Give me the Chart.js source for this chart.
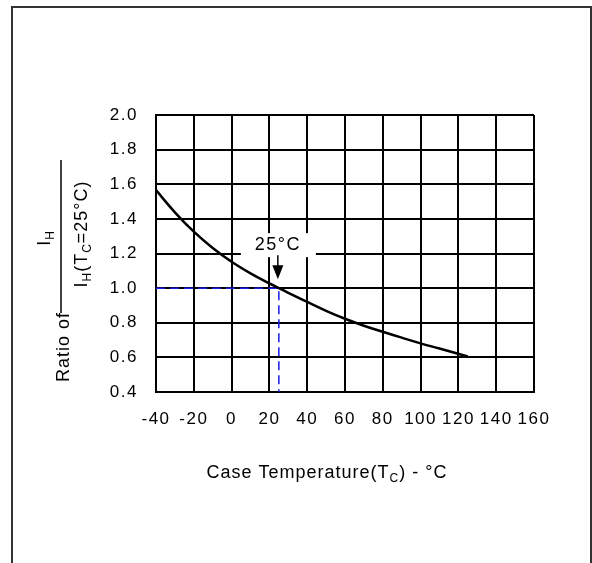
<!DOCTYPE html>
<html>
<head>
<meta charset="utf-8">
<script src="https://cdn.jsdelivr.net/npm/chart.js@4.4.1/dist/chart.umd.min.js"></script>
<style>
  html, body { margin: 0; padding: 0; background: #fff; }
  #wrap { position: relative; width: 592px; height: 563px; }
</style>
</head>
<body>
<div id="wrap"><canvas id="ratioChart"></canvas></div>
<script>
// case temperature (°C) and I_H ratio
const tempC = [-40, -30, -20, -10, 0, 10, 20, 25, 30, 40, 50, 60, 70, 80, 90, 100, 110, 125];
const ratio = [1.566, 1.438, 1.326, 1.232, 1.152, 1.085, 1.027, 1.0, 0.973, 0.920, 0.869, 0.823, 0.783, 0.748, 0.714, 0.681, 0.651, 0.605];

// dashed guide through the 25°C point
const refX = [-40, 25, 25];
const refY = [1.0, 1.0, 0.4];

const xTicks = [-40, -20, 0, 20, 40, 60, 80, 100, 120, 140, 160];
const yTicks = [0.4, 0.6, 0.8, 1.0, 1.2, 1.4, 1.6, 1.8, 2.0];

const FONT = '"Liberation Sans", Arial, sans-serif';

// draws text made of normal + subscript runs, centred on (0,0)
function drawRuns(ctx, runs, size, subSize, spacing) {
    ctx.letterSpacing = spacing + 'px';
    let total = 0;
    runs.forEach(r => {
        ctx.font = (r.sub ? subSize : size) + 'px ' + FONT;
        r.w = ctx.measureText(r.t).width;
        total += r.w;
    });
    let x = -total / 2;
    ctx.textAlign = 'left';
    ctx.textBaseline = 'alphabetic';
    runs.forEach(r => {
        ctx.font = (r.sub ? subSize : size) + 'px ' + FONT;
        ctx.fillText(r.t, x, r.sub ? 4 : 0);
        x += r.w;
    });
}

const framePlugin = {
    id: 'frame',
    beforeDraw(chart) {
        chart.ctx.letterSpacing = '1.5px';
    },
    afterDraw(chart) {
        const c = chart.ctx;
        c.save();
        c.strokeStyle = '#333';
        c.lineWidth = 2;
        c.strokeRect(12, 7, 579, 700);

        c.fillStyle = '#000';
        // x title
        c.save();
        c.translate(327, 478);
        drawRuns(c, [{t: 'Case Temperature(T'}, {t: 'C', sub: true}, {t: ') - °C'}], 18, 12, 1);
        c.restore();

        // y title: "Ratio of" + fraction
        c.save();
        c.translate(69, 347);
        c.rotate(-Math.PI / 2);
        drawRuns(c, [{t: 'Ratio of'}], 18, 12, 1);
        c.restore();

        c.beginPath();
        c.lineWidth = 1.5;
        c.strokeStyle = '#000';
        c.moveTo(61, 160);
        c.lineTo(61, 313);
        c.stroke();

        c.save();
        c.translate(50, 238);
        c.rotate(-Math.PI / 2);
        drawRuns(c, [{t: 'I'}, {t: 'H', sub: true}], 18, 12, 1);
        c.restore();

        c.save();
        c.translate(87, 234);
        c.rotate(-Math.PI / 2);
        drawRuns(c, [{t: 'I'}, {t: 'H', sub: true}, {t: '(T'}, {t: 'C', sub: true}, {t: '=25°C)'}], 18, 12, 1);
        c.restore();
        c.restore();
    }
};

// "25°C" callout with arrow at the reference point
const calloutPlugin = {
    id: 'callout',
    beforeDatasetsDraw(chart) {
        const c = chart.ctx;
        const px = chart.scales.x.getPixelForValue(25);
        const py = chart.scales.y.getPixelForValue(1.0);
        c.save();
        c.fillStyle = '#fff';
        c.fillRect(px - 38, py - 55, 75, 24);
        c.restore();
    },
    afterDatasetsDraw(chart) {
        const c = chart.ctx;
        const px = chart.scales.x.getPixelForValue(25) - 1;
        const py = chart.scales.y.getPixelForValue(1.0);
        c.save();
        c.fillStyle = '#000';
        c.translate(px, py - 38);
        drawRuns(c, [{t: '25°C'}], 18, 12, 1.5);
        c.restore();

        c.save();
        c.strokeStyle = '#000';
        c.fillStyle = '#000';
        c.lineWidth = 1.5;
        c.beginPath();
        c.moveTo(px, py - 33);
        c.lineTo(px, py - 22);
        c.stroke();
        c.beginPath();
        c.moveTo(px - 5.5, py - 23);
        c.lineTo(px + 5.5, py - 23);
        c.lineTo(px, py - 9);
        c.closePath();
        c.fill();
        c.restore();
    }
};

const ctx = document.getElementById('ratioChart').getContext('2d');

const chart = new Chart(ctx, {
    type: 'line',
    data: {
        datasets: [{
            label: 'Ratio',
            data: tempC.map((t, i) => ({x: t, y: ratio[i]})),
            borderColor: '#000',
            borderWidth: 2.5,
            pointRadius: 0,
            tension: 0.4,
            fill: false
        }, {
            label: '25°C',
            data: refX.map((t, i) => ({x: t, y: refY[i]})),
            borderColor: '#1a1ae6',
            borderWidth: 1.5,
            borderDash: [9, 5],
            pointRadius: 0,
            tension: 0,
            fill: false
        }]
    },
    options: {
        responsive: true,
        maintainAspectRatio: false,
        animation: false,
        layout: {
            padding: {left: 0, top: 115, right: 58, bottom: 0}
        },
        plugins: {
            legend: {display: false},
            tooltip: {enabled: false}
        },
        scales: {
            x: {
                type: 'linear',
                min: -40,
                max: 160,
                afterBuildTicks: s => { s.ticks = xTicks.map(v => ({value: v})); },
                afterFit: s => { s.height = 563 - 392; },
                grid: {color: '#000', lineWidth: 2, drawTicks: false},
                border: {color: '#000', width: 2},
                ticks: {
                    autoSkip: false,
                    maxRotation: 0,
                    padding: 17,
                    color: '#000',
                    font: {family: FONT, size: 17}
                }
            },
            y: {
                type: 'linear',
                min: 0.4,
                max: 2.0,
                afterBuildTicks: s => { s.ticks = yTicks.map(v => ({value: v})); },
                afterFit: s => { s.width = 156; },
                grid: {color: '#000', lineWidth: 2, drawTicks: false},
                border: {color: '#000', width: 2},
                ticks: {
                    padding: 18,
                    color: '#000',
                    font: {family: FONT, size: 17},
                    callback: v => Number(v).toFixed(1)
                }
            }
        }
    },
    plugins: [framePlugin, calloutPlugin]
});
</script>
</body>
</html>
